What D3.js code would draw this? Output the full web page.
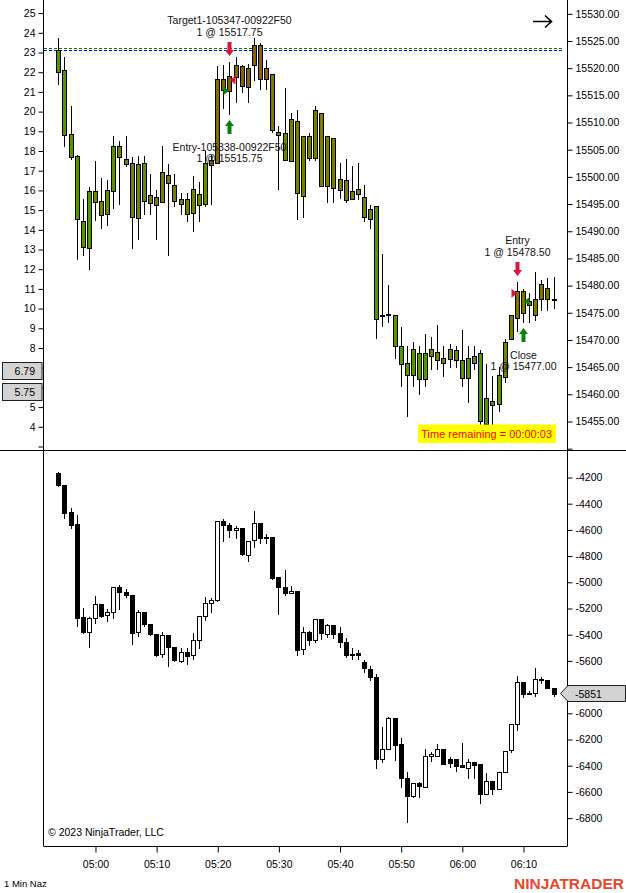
<!DOCTYPE html>
<html>
<head>
<meta charset="utf-8">
<script src="https://cdn.jsdelivr.net/npm/d3@7"></script>
<style>
  body { margin: 0; background: #fff; }
  svg { display: block; font-family: "Liberation Sans", Arial, sans-serif; }
</style>
</head>
<body>
<svg width="626" height="893"></svg>
<script>
let svg = d3.select("svg");
let width = +svg.attr("width");

const firstBar = "04:54";

// [open, high, low, close], 1 min bars
const priceBars = [
  [15523.25, 15525.5, 15517, 15519.25], [15519.5, 15522, 15505.5, 15507.5], [15507.75, 15513, 15503.25, 15503.5],
  [15503.75, 15504, 15484.75, 15492.25], [15491.75, 15495.75, 15485.5, 15487], [15486.75, 15498, 15483, 15497.25],
  [15495.25, 15502.75, 15492, 15497.25], [15495.5, 15499.75, 15490.5, 15493], [15493, 15499.25, 15491, 15497.5],
  [15497.25, 15507.5, 15494.25, 15505.5], [15505.5, 15506.5, 15495, 15503.5], [15503.25, 15507.5, 15502, 15502.25],
  [15502.5, 15503.5, 15486.75, 15492.5], [15492.25, 15503.75, 15488.5, 15502.25], [15502.5, 15503.75, 15493, 15495.5],
  [15496.5, 15500.5, 15493, 15495], [15496.25, 15497.5, 15488.5, 15494.75], [15495.25, 15505.5, 15495.25, 15500.75],
  [15500.25, 15502.25, 15485.5, 15498.75], [15498.5, 15500.5, 15494.5, 15495.5], [15494.75, 15497, 15493, 15495.75],
  [15495.75, 15497, 15491.75, 15493], [15493.25, 15500, 15490, 15497.75], [15494.75, 15499, 15491.75, 15496.75],
  [15495, 15504.75, 15494.5, 15502.5], [15502, 15504, 15495, 15503], [15502.5, 15520.25, 15502.5, 15518],
  [15518, 15520.5, 15512.5, 15516], [15518.5, 15521, 15511.5, 15515.75], [15518.25, 15522, 15513.75, 15520.5],
  [15520.25, 15520.5, 15515.5, 15516.5], [15516.5, 15520.75, 15513.75, 15520], [15520.5, 15525.5, 15517.75, 15524.25],
  [15524.25, 15524.5, 15516, 15518], [15520, 15521.5, 15516, 15518], [15518.75, 15518.75, 15508.25, 15508.5],
  [15508.25, 15509.25, 15497.75, 15507.75], [15508, 15516.25, 15503, 15503], [15502.75, 15511.75, 15502.75, 15510.5],
  [15510.25, 15512.25, 15492.25, 15497], [15496.5, 15507.5, 15492.5, 15507.5], [15507.5, 15508, 15503, 15503.5],
  [15503.5, 15513, 15503, 15512.25], [15511.75, 15511.75, 15498.25, 15498.25], [15498.25, 15507.5, 15495.25, 15507.5],
  [15507, 15507, 15495.25, 15497.75], [15499.5, 15502.5, 15496, 15497.5], [15499.25, 15503.25, 15495.25, 15495.5],
  [15497.25, 15502, 15495.75, 15495.75], [15497.75, 15502.5, 15495.75, 15496.75], [15496.25, 15498.5, 15491.75, 15492.5],
  [15494, 15494.75, 15490.5, 15492.25], [15494.5, 15494.5, 15470.25, 15473.75], [15474.5, 15485.75, 15472.5, 15474.5],
  [15474.75, 15480, 15473.25, 15474.75], [15474.5, 15474.5, 15466.5, 15468.75], [15468.75, 15472.25, 15461.5, 15465.5],
  [15465.75, 15468.75, 15456, 15463.5], [15463.5, 15469.5, 15461.5, 15468.25], [15467.5, 15468.75, 15460, 15462.75],
  [15462.75, 15471, 15461.5, 15467.5], [15467, 15470.5, 15464.5, 15468.25], [15466.25, 15472.75, 15464.5, 15467.75],
  [15466.5, 15468.75, 15463.25, 15465.5], [15468.25, 15469.25, 15465, 15466.5], [15468, 15468.75, 15465, 15466.25],
  [15466.25, 15471.75, 15461.5, 15463], [15462.75, 15468.75, 15458.5, 15466.5], [15467, 15468.75, 15464.5, 15465.75],
  [15467.5, 15468, 15454.25, 15455], [15454.5, 15465.5, 15454.5, 15459.25], [15458.75, 15463.25, 15454.5, 15458],
  [15458.25, 15465, 15456.75, 15463.5], [15463, 15470, 15462.25, 15469.5], [15470, 15474.5, 15470, 15474.5],
  [15474, 15480.5, 15471.5, 15479], [15479, 15479.25, 15473.25, 15475], [15476.25, 15478.5, 15473.25, 15477],
  [15474.5, 15482.5, 15473.5, 15477.5], [15477.5, 15481, 15475.5, 15480.25], [15479.5, 15481.25, 15475.5, 15477.5],
  [15477.5, 15481.5, 15475.75, 15477.5]
];

// bar colouring from the trend indicator: 0 = green, 1 = brown
const trend = [
  0.1, 0.1, 0.15, 0.05, 0.05, 0.05, 0.3, 0.4, 0.2, 0.15, 0.4, 0.5, 0.45, 0.35, 0.2, 0.45, 0.5, 0.4, 0.5, 0.5,
  0.5, 0.5, 0.35, 0.25, 0.2, 0.5, 0.8, 0.95, 0.95, 1, 0.95, 0.95, 1, 0.95, 0.9, 0.55, 0.5, 0.4, 0.5, 0.5,
  0.45, 0.5, 0.55, 0.5, 0.5, 0.5, 0.5, 0.5, 0.5, 0.5, 0.35, 0.35, 0.05, 0.4, 0.4, 0.1, 0.05, 0.05, 0.05, 0.05,
  0.05, 0.25, 0.25, 0.35, 0.25, 0.3, 0.1, 0.05, 0.25, 0.05, 0.05, 0.2, 0.1, 0.35, 0.5, 0.7, 0.7, 0.6, 0.55, 0.7,
  0.7, 0.6
];

// lower panel (cumulative delta) [open, high, low, close]
const deltaBars = [
  [-4172, -4164, -4266, -4266], [-4261, -4261, -4511, -4473], [-4467, -4439, -4587, -4564], [-4559, -4490, -5335, -5274],
  [-5271, -5202, -5389, -5389], [-5389, -5271, -5495, -5279], [-5279, -5108, -5312, -5172], [-5172, -5172, -5266, -5261],
  [-5259, -5208, -5297, -5233], [-5233, -5042, -5279, -5042], [-5042, -5024, -5208, -5080], [-5080, -5057, -5116, -5106],
  [-5101, -5101, -5475, -5389], [-5389, -5215, -5412, -5233], [-5233, -5233, -5335, -5325], [-5325, -5325, -5406, -5401],
  [-5401, -5401, -5564, -5559], [-5554, -5386, -5572, -5408], [-5408, -5408, -5641, -5503], [-5500, -5500, -5607, -5602],
  [-5602, -5508, -5615, -5536], [-5536, -5508, -5630, -5564], [-5564, -5393, -5589, -5447], [-5447, -5263, -5503, -5263],
  [-5263, -5116, -5292, -5164], [-5164, -5126, -5228, -5141], [-5144, -4538, -5144, -4538], [-4538, -4521, -4686, -4572],
  [-4569, -4553, -4656, -4610], [-4607, -4572, -4663, -4592], [-4592, -4592, -4793, -4793], [-4793, -4686, -4839, -4686],
  [-4686, -4460, -4737, -4553], [-4553, -4553, -4702, -4671], [-4658, -4637, -4706, -4668], [-4658, -4658, -4979, -4973],
  [-4963, -4963, -5244, -5042], [-5042, -4910, -5101, -5091], [-5088, -5032, -5088, -5070], [-5070, -5070, -5559, -5518],
  [-5518, -5345, -5551, -5386], [-5386, -5376, -5483, -5447], [-5447, -5286, -5457, -5286], [-5286, -5286, -5437, -5396],
  [-5396, -5320, -5424, -5330], [-5330, -5330, -5427, -5396], [-5393, -5345, -5495, -5463], [-5462, -5431, -5572, -5564],
  [-5551, -5508, -5592, -5559], [-5546, -5521, -5592, -5559], [-5615, -5597, -5686, -5660], [-5668, -5643, -5750, -5732],
  [-5729, -5704, -6424, -6355], [-6355, -6111, -6373, -6276], [-6279, -6034, -6279, -6042], [-6042, -6042, -6360, -6246],
  [-6241, -6195, -6564, -6500], [-6500, -6450, -6831, -6641], [-6641, -6538, -6645, -6538], [-6538, -6526, -6645, -6559],
  [-6564, -6279, -6569, -6330], [-6330, -6297, -6366, -6317], [-6325, -6241, -6325, -6274], [-6274, -6274, -6386, -6386],
  [-6355, -6340, -6412, -6386], [-6355, -6355, -6442, -6406], [-6396, -6233, -6414, -6414], [-6416, -6355, -6500, -6373],
  [-6373, -6373, -6500, -6393], [-6391, -6391, -6686, -6620], [-6620, -6462, -6620, -6518], [-6518, -6518, -6622, -6576],
  [-6576, -6450, -6584, -6450], [-6450, -6289, -6450, -6289], [-6289, -6088, -6297, -6088], [-6088, -5719, -6129, -5767],
  [-5767, -5767, -5882, -5857], [-5857, -5831, -5857, -5846], [-5851, -5660, -5872, -5744], [-5750, -5724, -5775, -5740],
  [-5750, -5750, -5813, -5808], [-5808, -5808, -5872, -5851]
];

const priceTicks = [15450, 15455, 15460, 15465, 15470, 15475, 15480, 15485, 15490, 15495, 15500,
  15505, 15510, 15515, 15520, 15525, 15530];
const indicatorTicks = [3, 4, 5, 6, 7, 8, 9, 10, 11, 12, 13, 14, 15, 16, 17, 18, 19, 20, 21, 22, 23, 24, 25];
const deltaTicks = [-6800, -6600, -6400, -6200, -6000, -5800, -5600, -5400, -5200, -5000, -4800, -4600, -4400, -4200];
const timeTicks = ["05:00", "05:10", "05:20", "05:30", "05:40", "05:50", "06:00", "06:10"];

const indicatorValues = [6.79, 5.75];
const levels = [{ price: 15523.5, color: "#008000" }, { price: 15523.25, color: "#0000ff" }];

const trades = [
  { bar: 28, side: "buy",  kind: "entry", price: 15515.75, name: "Entry-105338-00922F50" },
  { bar: 28, side: "sell", kind: "exit",  price: 15517.75, name: "Target1-105347-00922F50" },
  { bar: 75, side: "sell", kind: "entry", price: 15478.50, name: "Entry" },
  { bar: 76, side: "buy",  kind: "exit",  price: 15477.00, name: "Close" }
];

let parse = d3.timeParse("%H:%M:%S");
let t0 = parse(firstBar + ":00");
let barTime = (i) => d3.timeMinute.offset(t0, i);

let x = d3.scaleTime().domain([parse("04:51:30"), parse("06:17:12")]).range([43, 567]);
let yPrice = d3.scaleLinear().domain([15455, 15530]).range([421, 13.3]);
let yInd = d3.scaleLinear().domain([4, 25]).range([426.3, 12.6]);
let yDelta = d3.scaleLinear().domain([-6800, -4200]).range([817.6, 477]);

let shade = d3.scaleLinear().domain([0, 0.5, 1]).range(["#4e9a00", "#7b7d00", "#8b6000"]);
let bx = (i) => Math.round(x(barTime(i)));

svg.append("defs").append("clipPath").attr("id", "top")
  .append("rect").attr("x", 44).attr("y", 0).attr("width", 523).attr("height", 450);

// dashed levels
svg.append("g").selectAll("line").data(levels).enter().append("line")
  .attr("x1", 44).attr("x2", 563)
  .attr("y1", d => Math.round(yPrice(d.price) - 0.4) + 0.5)
  .attr("y2", d => Math.round(yPrice(d.price) - 0.4) + 0.5)
  .attr("stroke", d => d.color).attr("stroke-dasharray", "3,2");

let drawCandles = (g, bars, y, fill) => {
  let c = g.selectAll("g").data(bars).enter().append("g")
    .attr("transform", (d, i) => `translate(${bx(i)},0)`);
  c.append("line")
    .attr("x1", 0.5).attr("x2", 0.5)
    .attr("y1", d => Math.round(y(d[1])))
    .attr("y2", d => Math.round(y(d[2])) + 1)
    .attr("stroke", "#000");
  c.append("rect")
    .attr("x", -1.5).attr("width", 4)
    .attr("y", d => Math.round(y(Math.max(d[0], d[3]))) + 0.5)
    .attr("height", d => Math.max(1, Math.round(Math.abs(y(d[0]) - y(d[3])))))
    .attr("fill", fill)
    .attr("stroke", "#000");
}

drawCandles(svg.append("g").attr("clip-path", "url(#top)"), priceBars, yPrice, (d, i) => shade(trend[i]));
drawCandles(svg.append("g"), deltaBars, yDelta, d => d[3] >= d[0] ? "#fff" : "#000");

// trade markers
let arrowDown = "M-2,-14H2V-6H4.5L0,0L-4.5,-6H-2Z";
let arrowUp = "M-2,14H2V6H4.5L0,0L-4.5,6H-2Z";
let markers = svg.append("g");
for (let t of trades) {
  let cx = bx(t.bar) + 0.5;
  let bar = priceBars[t.bar];
  let color = t.side === "buy" ? "#0a800a" : "#dc143c";
  let py = yPrice(t.price);
  let dir = t.kind === "entry" ? 1 : -1;
  markers.append("path")
    .attr("d", `M${cx - dir * 6},${py - 4.5}L${cx - dir * 0.5},${py}L${cx - dir * 6},${py + 4.5}Z`)
    .attr("fill", color);
  let text = markers.append("text").attr("text-anchor", "middle")
    .attr("font-size", "10.5px").attr("fill", "#111");
  if (t.side === "sell") {
    let tip = Math.round(yPrice(bar[1])) - 6;
    markers.append("path").attr("d", arrowDown).attr("fill", color)
      .attr("transform", `translate(${cx},${tip})`);
    text.append("tspan").attr("x", cx).attr("y", tip - 32.5).text(t.name);
    text.append("tspan").attr("x", cx).attr("y", tip - 20.5).text(`1 @ ${t.price.toFixed(2)}`);
  } else {
    let tip = Math.round(yPrice(bar[2])) + 6;
    markers.append("path").attr("d", arrowUp).attr("fill", color)
      .attr("transform", `translate(${cx},${tip})`);
    text.append("tspan").attr("x", cx).attr("y", tip + 30.5).text(t.name);
    text.append("tspan").attr("x", cx).attr("y", tip + 42).text(`1 @ ${t.price.toFixed(2)}`);
  }
}

// frame
svg.append("line").attr("x1", 0).attr("x2", width).attr("y1", 450.5).attr("y2", 450.5).attr("stroke", "#000");
svg.append("line").attr("x1", 43.5).attr("x2", 43.5).attr("y1", 0).attr("y2", 846).attr("stroke", "#000");
svg.append("line").attr("x1", 567.5).attr("x2", 567.5).attr("y1", 0).attr("y2", 846).attr("stroke", "#000");

let styleAxis = (g) => {
  g.attr("font-family", null).attr("font-size", "10.5px");
  g.selectAll(".tick line").attr("stroke", "#000");
  g.selectAll(".tick text").attr("fill", "#000");
}

let lastDelta = deltaBars[deltaBars.length - 1][3];
// labels hidden behind the value boxes
let underBox = (y, values, v) => values.some(b => Math.abs(y(b) - y(v)) < 13);

svg.append("g").attr("transform", "translate(567.5,0.5)")
  .call(d3.axisRight(yPrice).tickValues(priceTicks).tickSize(5).tickPadding(3)
    .tickFormat(d => d < 15455 ? "" : d3.format(".2f")(d)))
  .call(g => g.select(".domain").remove())
  .call(styleAxis);

svg.append("g").attr("transform", "translate(43.5,0.5)")
  .call(d3.axisLeft(yInd).tickValues(indicatorTicks).tickSize(5).tickPadding(3)
    .tickFormat(d => d < 4 || underBox(yInd, indicatorValues, d) ? "" : d))
  .call(g => g.select(".domain").remove())
  .call(styleAxis);

svg.append("g").attr("transform", "translate(567.5,0.5)")
  .call(d3.axisRight(yDelta).tickValues(deltaTicks).tickSize(5).tickPadding(3)
    .tickFormat(d => underBox(yDelta, [lastDelta], d) ? "" : String(d)))
  .call(g => g.select(".domain").remove())
  .call(styleAxis);

svg.append("g").attr("transform", "translate(0.5,846.5)")
  .call(d3.axisBottom(x).tickValues(timeTicks.map(d => parse(d + ":00")))
    .tickFormat(d3.timeFormat("%H:%M")).tickSize(6).tickPadding(8).tickSizeOuter(0))
  .call(g => g.select(".domain").attr("stroke", "#000").attr("d", "M43,0H567"))
  .call(styleAxis);

// indicator value boxes on the left
let ind = svg.append("g").selectAll("g").data(indicatorValues).enter().append("g")
  .attr("transform", d => `translate(0,${Math.round(yInd(d))})`);
ind.append("rect").attr("x", 2.5).attr("y", -8.5).attr("width", 39.5).attr("height", 17)
  .attr("fill", "#d3d3d3").attr("stroke", "#222");
ind.append("text").attr("x", 35).attr("y", 4).attr("text-anchor", "end")
  .attr("font-size", "10.5px").text(d => d.toFixed(2));

// last delta value
let ly = Math.round(yDelta(lastDelta)) + 0.5;
svg.append("path")
  .attr("d", `M560.5,${ly}L568,${ly - 8}H625.5V${ly + 8}H568Z`)
  .attr("fill", "#d3d3d3").attr("stroke", "#222");
svg.append("text").attr("x", 575).attr("y", ly + 4).attr("font-size", "10.5px").text(String(lastDelta));

// time remaining
svg.append("rect").attr("x", 418).attr("y", 424.5).attr("width", 138).attr("height", 18.5).attr("fill", "#ffff00");
svg.append("text").attr("x", 552).attr("y", 438).attr("text-anchor", "end")
  .attr("font-size", "11px").attr("fill", "#ff0000").text("Time remaining = 00:00:03");

// top right arrow
svg.append("path").attr("d", "M533,21.5H551M545,15.5L551.5,21.5L545,27.5")
  .attr("fill", "none").attr("stroke", "#000").attr("stroke-width", 1.6);

svg.append("text").attr("x", 48).attr("y", 836).attr("font-size", "10.5px").text("© 2023 NinjaTrader, LLC");
svg.append("text").attr("x", 4).attr("y", 887).attr("font-size", "9.5px").text("1 Min Naz");
svg.append("text").attr("x", 624).attr("y", 889).attr("text-anchor", "end")
  .attr("font-size", "15.5px").attr("font-weight", "bold").attr("fill", "#e8462c").text("NINJATRADER");
</script>
</body>
</html>
